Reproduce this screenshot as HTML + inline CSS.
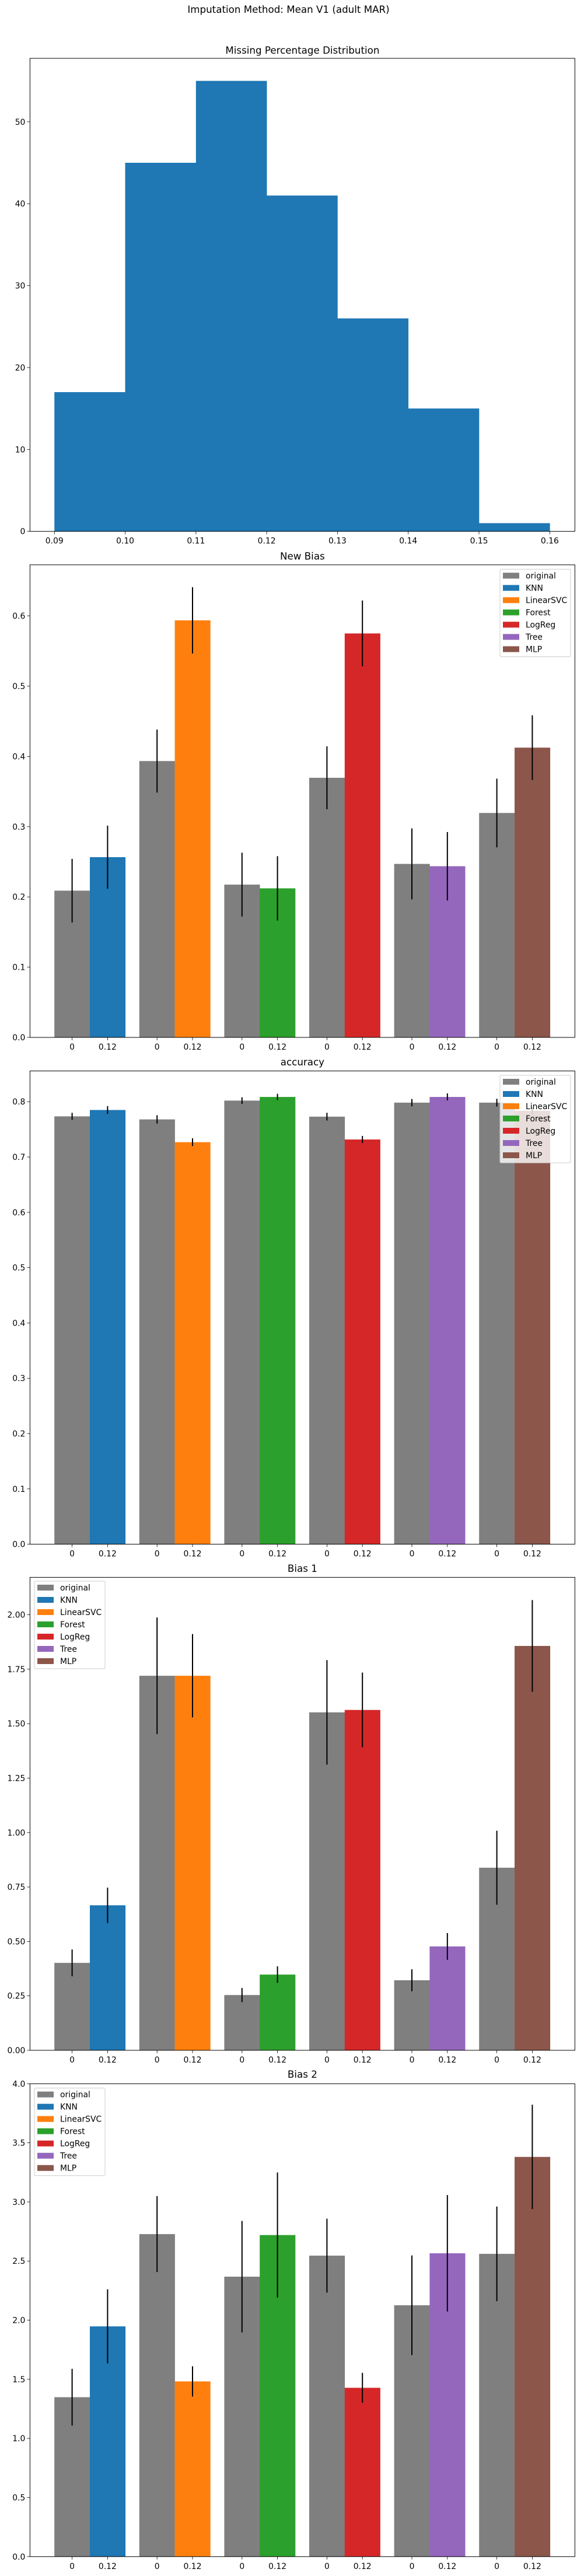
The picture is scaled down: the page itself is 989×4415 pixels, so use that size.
<!DOCTYPE html>
<html><head><meta charset="utf-8">
<style>
html,body{margin:0;padding:0;background:#fff;}
svg{display:block;font-family:"DejaVu Sans","Liberation Sans",sans-serif;}
</style></head>
<body>
<svg id="fig" width="989" height="4415" viewBox="0 0 989 4415" xmlns="http://www.w3.org/2000/svg">
<text x="494.5" y="22" text-anchor="middle" font-size="16.7">Imputation Method: Mean V1 (adult MAR)</text>
</svg>
<script>
// Histogram data
const histEdges = [0.09,0.10,0.11,0.12,0.13,0.14,0.15,0.16];
const histCounts = [17,45,55,41,26,15,1];
const histXTicks = ["0.09","0.10","0.11","0.12","0.13","0.14","0.15","0.16"];
const histYTicks = [0,10,20,30,40,50];

// Bar charts
const models = ["KNN","LinearSVC","Forest","LogReg","Tree","MLP"];
const legendLabels = ["original","KNN","LinearSVC","Forest","LogReg","Tree","MLP"];
const barTickLabels = ["0","0.12"];

const newBiasOrig = [0.2089,0.3934,0.2175,0.3696,0.247,0.3195];
const newBiasOrigErr = [0.0453,0.0449,0.0455,0.0448,0.0505,0.0489];
const newBiasImp = [0.2566,0.5937,0.2122,0.5751,0.2437,0.4125];
const newBiasImpErr = [0.0449,0.0472,0.0458,0.0468,0.0487,0.046];

const accOrig = [0.7735,0.768,0.802,0.773,0.7983,0.7983];
const accOrigErr = [0.0064,0.0076,0.006,0.007,0.0066,0.007];
const accImp = [0.785,0.7268,0.8086,0.7317,0.8086,0.7837];
const accImpErr = [0.007,0.007,0.0057,0.0064,0.0064,0.007];

const bias1Orig = [0.4015,1.72,0.2538,1.552,0.3215,0.8385];
const bias1OrigErr = [0.0615,0.268,0.0323,0.24,0.0505,0.17];
const bias1Imp = [0.666,1.72,0.3477,1.563,0.477,1.857];
const bias1ImpErr = [0.081,0.1915,0.038,0.1715,0.0615,0.2105];

const bias2Orig = [1.3485,2.728,2.368,2.546,2.126,2.561];
const bias2OrigErr = [0.24,0.321,0.4715,0.3125,0.4215,0.4005];
const bias2Imp = [1.9475,1.482,2.72,1.428,2.566,3.381];
const bias2ImpErr = [0.314,0.128,0.5295,0.1265,0.4925,0.4415];

const colors = ["#7f7f7f","#1f77b4","#ff7f0e","#2ca02c","#d62728","#9467bd","#8c564b"];

const NS = "http://www.w3.org/2000/svg";
const svg = document.getElementById('fig');
function mk(tag, attrs, parent){
  const e = document.createElementNS(NS, tag);
  for (const k in attrs) e.setAttribute(k, attrs[k]);
  (parent||svg).appendChild(e);
  return e;
}
const AX_L = 51.4, AX_R = 985.4;

function drawYAxis(g, top, bottom, ymax, ticks, fmt){
  const y = v => bottom - (v/ymax)*(bottom-top);
  ticks.forEach(t=>{
    const tk = mk('line',{x1:AX_L-4.9,x2:AX_L,y1:y(t),y2:y(t),stroke:'#000','stroke-width':0.8},g);
    
    
    const tx = mk('text',{x:AX_L-8,y:y(t)+5,'text-anchor':'end','font-size':13.9},g);
    
    
    tx.textContent = fmt(t);
  });
  return y;
}
function drawFrame(g, top, bottom){
  const r = mk('rect',{x:AX_L,y:top,width:AX_R-AX_L,height:bottom-top,fill:'none',stroke:'#000','stroke-width':1},g);
  
  
}
function drawTitle(g, text, y){
  const t = mk('text',{x:(AX_L+AX_R)/2,y:y,'text-anchor':'middle','font-size':16.7},g);
  
  
  t.textContent = text;
}

// ---- Histogram ----
(function(){
  const top=100, bottom=910.7, ymax=57.75, xmin=0.08655, xmax=0.16355;
  const g = mk('g',{});
  
  
  drawTitle(g,'Missing Percentage Distribution',92);
  const x = v => AX_L + (v-xmin)/(xmax-xmin)*(AX_R-AX_L);
  const y = drawYAxis(g, top, bottom, ymax, histYTicks, t=>String(t));
  histCounts.forEach((c,i)=>{
    const r = mk('rect',{x:x(histEdges[i]),y:y(c),width:x(histEdges[i+1])-x(histEdges[i])+0.3,height:bottom-y(c),fill:'#1f77b4'},g);
    
    
  });
  histXTicks.forEach(lbl=>{
    const v = parseFloat(lbl);
    const tk = mk('line',{x1:x(v),x2:x(v),y1:bottom,y2:bottom+4.9,stroke:'#000','stroke-width':0.8},g);
    
    
    const tx = mk('text',{x:x(v),y:bottom+21,'text-anchor':'middle','font-size':13.9},g);
    
    
    tx.textContent = lbl;
  });
  drawFrame(g, top, bottom);
})();

// ---- Bar charts ----
function barChart(name, title, titleY, top, bottom, ymax, yticks, fmt, orig, origErr, imp, impErr, legendPos){
  const g = mk('g',{});
  
  
  drawTitle(g, title, titleY);
  const y = drawYAxis(g, top, bottom, ymax, yticks, fmt);
  const W = 60.8;
  const gx = i => 93.2 + i*145.6;
  function bar(xl, v, e, col){
    const r = mk('rect',{x:xl,y:y(v),width:W+0.3,height:bottom-y(v),fill:col},g);
    
    
    const l = mk('line',{x1:xl+W/2,x2:xl+W/2,y1:y(v+e),y2:y(v-e),stroke:'#000','stroke-width':2},g);
    
    
  }
  models.forEach((m,i)=>{
    bar(gx(i), orig[i], origErr[i], colors[0]);
    bar(gx(i)+W, imp[i], impErr[i], colors[i+1]);
    [0,1].forEach(k=>{
      const cx = gx(i)+W*k+W/2;
      const tk = mk('line',{x1:cx,x2:cx,y1:bottom,y2:bottom+4.9,stroke:'#000','stroke-width':0.8},g);
      
      
      const tx = mk('text',{x:cx,y:bottom+21,'text-anchor':'middle','font-size':13.9},g);
      
      
      tx.textContent = barTickLabels[k];
    });
  });
  drawFrame(g, top, bottom);
  // legend
  const lx = legendPos[0], ly = legendPos[1];
  const lg = mk('g',{},g);
  
  
  mk('rect',{x:lx,y:ly,width:121,height:150,rx:2,fill:'#fff','fill-opacity':0.8,stroke:'#cccccc','stroke-width':1},lg);
  legendLabels.forEach((lbl,j)=>{
    const ey = ly + 11 + j*21;
    const p = mk('rect',{x:lx+5,y:ey-5,width:28,height:10,fill:colors[j]},lg);
    
    
    const t = mk('text',{x:lx+44,y:ey+5,'font-size':13.9},lg);
    
    
    t.textContent = lbl;
  });
}
const f1 = t=>t.toFixed(1), f2 = t=>t.toFixed(2);
barChart('new-bias-chart','New Bias',959,968,1778,0.6728,[0,0.1,0.2,0.3,0.4,0.5,0.6],f1,newBiasOrig,newBiasOrigErr,newBiasImp,newBiasImpErr,[857,975.6]);
barChart('accuracy-chart','accuracy',1826,1835.5,2646.6,0.8556,[0,0.1,0.2,0.3,0.4,0.5,0.6,0.7,0.8],f1,accOrig,accOrigErr,accImp,accImpErr,[857,1843]);
barChart('bias-1-chart','Bias 1',2694,2703.4,3514,2.172,[0,0.25,0.5,0.75,1,1.25,1.5,1.75,2],f2,bias1Orig,bias1OrigErr,bias1Imp,bias1ImpErr,[59,2710]);
barChart('bias-2-chart','Bias 2',3561,3571.3,4381.8,4.0,[0,0.5,1,1.5,2,2.5,3,3.5,4],f1,bias2Orig,bias2OrigErr,bias2Imp,bias2ImpErr,[59,3578.7]);
</script>
</body></html>
